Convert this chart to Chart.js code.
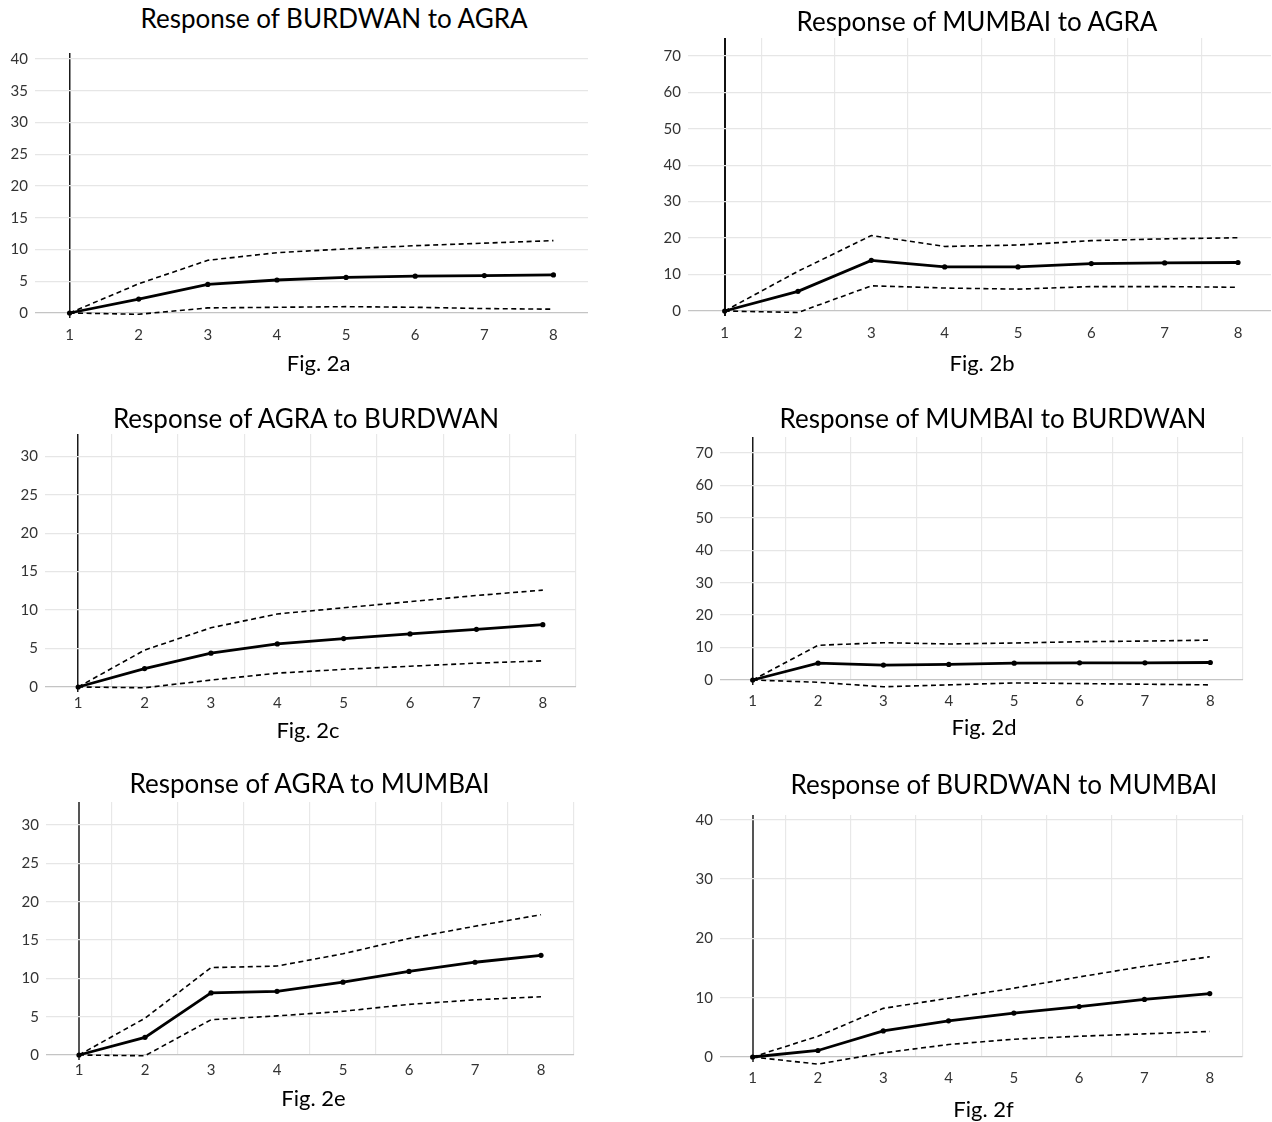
<!DOCTYPE html>
<html>
<head>
<meta charset="utf-8">
<script src="https://cdn.jsdelivr.net/npm/chart.js@4/dist/chart.umd.min.js"></script>
<style>
  body { margin: 0; background: #fff; }
  #page { position: relative; width: 1272px; height: 1122px; overflow: hidden; font-family: Lato, "Noto Sans", sans-serif; }
  #page canvas { position: absolute; }
  .title, .caption { position: absolute; white-space: nowrap; transform: translateX(-50%); color: #000; line-height: 30px; }
  .title { font-size: 26px; }
  .caption { font-size: 22px; }
</style>
</head>
<body>
<div id="page"></div>
<script>
// horizon (periods after the shock)
var PERIODS = [1, 2, 3, 4, 5, 6, 7, 8];

// Fig. 2a  Response of BURDWAN to AGRA
var BURDWAN_AGRA = [0, 2.2, 4.5, 5.2, 5.6, 5.8, 5.9, 6.0];
var BURDWAN_AGRA_UP = [0, 4.6, 8.3, 9.5, 10.1, 10.6, 11.0, 11.4];
var BURDWAN_AGRA_LO = [0, -0.2, 0.8, 0.9, 1.0, 0.9, 0.7, 0.6];

// Fig. 2b  Response of MUMBAI to AGRA
var MUMBAI_AGRA = [0, 5.4, 13.9, 12.1, 12.1, 13.0, 13.2, 13.3];
var MUMBAI_AGRA_UP = [0, 10.9, 20.7, 17.7, 18.1, 19.3, 19.8, 20.1];
var MUMBAI_AGRA_LO = [0, -0.4, 6.9, 6.3, 6.0, 6.7, 6.7, 6.5];

// Fig. 2c  Response of AGRA to BURDWAN
var AGRA_BURDWAN = [0, 2.4, 4.4, 5.6, 6.3, 6.9, 7.5, 8.1];
var AGRA_BURDWAN_UP = [0, 4.8, 7.7, 9.5, 10.3, 11.1, 11.9, 12.6];
var AGRA_BURDWAN_LO = [0, -0.1, 0.9, 1.8, 2.3, 2.7, 3.1, 3.4];

// Fig. 2d  Response of MUMBAI to BURDWAN
var MUMBAI_BURDWAN = [0, 5.2, 4.6, 4.8, 5.2, 5.3, 5.3, 5.4];
var MUMBAI_BURDWAN_UP = [0, 10.7, 11.5, 11.1, 11.4, 11.8, 12.0, 12.3];
var MUMBAI_BURDWAN_LO = [0, -0.7, -2.1, -1.5, -0.9, -1.1, -1.3, -1.5];

// Fig. 2e  Response of AGRA to MUMBAI
var AGRA_MUMBAI = [0, 2.3, 8.1, 8.3, 9.5, 10.9, 12.1, 13.0];
var AGRA_MUMBAI_UP = [0, 4.8, 11.4, 11.6, 13.2, 15.2, 16.8, 18.3];
var AGRA_MUMBAI_LO = [0, -0.1, 4.6, 5.1, 5.7, 6.6, 7.2, 7.6];

// Fig. 2f  Response of BURDWAN to MUMBAI
var BURDWAN_MUMBAI = [0, 1.1, 4.4, 6.1, 7.4, 8.5, 9.7, 10.7];
var BURDWAN_MUMBAI_UP = [0, 3.5, 8.2, 9.9, 11.6, 13.5, 15.3, 16.9];
var BURDWAN_MUMBAI_LO = [0, -1.2, 0.7, 2.1, 3.0, 3.5, 3.9, 4.3];

var panels = [
  { title: "Response of BURDWAN to AGRA", fig: "Fig. 2a", mid: BURDWAN_AGRA, up: BURDWAN_AGRA_UP, lo: BURDWAN_AGRA_LO,
    yMax: 40.95, step: 5, xMax: 8.5, gridX: false, axisColor: "#1a1a1a", axisW: 1.5,
    area: [35, 43, 589.5, 313.3], labelPad: 8, tpos: [334, 18], cpos: [318.7, 363] },
  { title: "Response of MUMBAI to AGRA", fig: "Fig. 2b", mid: MUMBAI_AGRA, up: MUMBAI_AGRA_UP, lo: MUMBAI_AGRA_LO,
    yMax: 74.9, step: 10, xMax: 8.45, gridX: true, axisColor: "#111", axisW: 2,
    area: [688, 28.3, 1270.7, 311.7], labelPad: 8, tpos: [977, 20.5], cpos: [982, 363] },
  { title: "Response of AGRA to BURDWAN", fig: "Fig. 2c", mid: AGRA_BURDWAN, up: AGRA_BURDWAN_UP, lo: AGRA_BURDWAN_LO,
    yMax: 32.9, step: 5, xMax: 8.5, gridX: true, axisColor: "#1a1a1a", axisW: 1.5,
    area: [45.2, 424.3, 575.7, 687.7], labelPad: 2.6, tpos: [306, 417.5], cpos: [308, 729.5] },
  { title: "Response of MUMBAI to BURDWAN", fig: "Fig. 2d", mid: MUMBAI_BURDWAN, up: MUMBAI_BURDWAN_UP, lo: MUMBAI_BURDWAN_LO,
    yMax: 74.9, step: 10, xMax: 8.5, gridX: true, axisColor: "#1a1a1a", axisW: 1.5,
    area: [720, 427.3, 1244, 680.3], labelPad: 7, tpos: [993, 417.5], cpos: [984, 727] },
  { title: "Response of AGRA to MUMBAI", fig: "Fig. 2e", mid: AGRA_MUMBAI, up: AGRA_MUMBAI_UP, lo: AGRA_MUMBAI_LO,
    yMax: 33, step: 5, xMax: 8.5, gridX: true, axisColor: "#555", axisW: 2,
    area: [46.3, 792, 574.3, 1054.7], labelPad: 1, tpos: [309.6, 782.5], cpos: [313.5, 1098] },
  { title: "Response of BURDWAN to MUMBAI", fig: "Fig. 2f", mid: BURDWAN_MUMBAI, up: BURDWAN_MUMBAI_UP, lo: BURDWAN_MUMBAI_LO,
    yMax: 40.8, step: 10, xMax: 8.5, gridX: true, axisColor: "#555", axisW: 2,
    area: [720, 804.9, 1244, 1057], labelPad: 7.6, tpos: [1004, 783.5], cpos: [983.5, 1108.7] }
];

var Y_W = 50, X_H = 40, PAD = 6;
var page = document.getElementById("page");

function pts(arr) {
  return PERIODS.map(function (p, i) { return { x: p, y: arr[i] }; });
}

// tick values every `step` from `from` up to `to`
function tickList(from, to, step) {
  var out = [];
  for (var k = 0; from + k * step <= to + 1e-9; k++) out.push({ value: +(from + k * step).toFixed(4) });
  return out;
}

panels.forEach(function (p) {
  var a = p.area;
  var cv = document.createElement("canvas");
  var w = Math.round(a[2] - a[0] + Y_W + PAD);
  var h = Math.round(a[3] - a[1] + PAD + X_H);
  cv.width = w; cv.height = h;
  cv.style.left = (a[0] - Y_W) + "px";
  cv.style.top = (a[1] - PAD) + "px";
  page.appendChild(cv);

  var t = document.createElement("div");
  t.className = "title"; t.textContent = p.title;
  t.style.left = p.tpos[0] + "px"; t.style.top = (p.tpos[1] - 15) + "px";
  page.appendChild(t);
  var c = document.createElement("div");
  c.className = "caption"; c.textContent = p.fig;
  c.style.left = p.cpos[0] + "px"; c.style.top = (p.cpos[1] - 15) + "px";
  page.appendChild(c);

  new Chart(cv.getContext("2d"), {
    type: "line",
    data: {
      datasets: [{
        data: pts(p.mid),
        borderColor: "#000",
        borderWidth: 2.8,
        pointRadius: 2.6,
        pointBackgroundColor: "#000",
        pointBorderWidth: 0,
        clip: false
      }, {
        data: pts(p.up),
        borderColor: "#000",
        borderWidth: 1.6,
        borderDash: [5, 3.5],
        pointRadius: 0,
        clip: false
      }, {
        data: pts(p.lo),
        borderColor: "#000",
        borderWidth: 1.6,
        borderDash: [5, 3.5],
        pointRadius: 0,
        clip: false
      }]
    },
    options: {
      responsive: false,
      animation: false,
      layout: { padding: { top: PAD, right: PAD, left: 0, bottom: 0 } },
      plugins: { legend: { display: false }, tooltip: { enabled: false } },
      scales: {
        x: {
          type: "linear",
          min: 0.5,
          max: p.xMax,
          afterFit: function (s) { s.height = X_H; },
          afterBuildTicks: function (s) { s.ticks = tickList(0.5, p.xMax, 0.5); },
          border: { display: false },
          grid: {
            tickLength: 5,
            color: function (ctx) {
              var v = ctx.tick.value;
              if (v === 1) return p.axisColor;
              if (p.gridX && v > 0.5 && Math.abs(v % 1 - 0.5) < 1e-6) return "#e8e8e8";
              return "rgba(0,0,0,0)";
            },
            lineWidth: function (ctx) { return ctx.tick.value === 1 ? p.axisW : 1.2; },
            tickColor: function (ctx) { return ctx.tick.value === 1 ? p.axisColor : "rgba(0,0,0,0)"; }
          },
          ticks: {
            autoSkip: false,
            maxRotation: 0,
            padding: p.labelPad,
            color: "#333",
            font: { family: "Lato", size: 15 },
            callback: function (v) { return Number.isInteger(v) ? String(v) : ""; }
          }
        },
        y: {
          min: 0,
          max: p.yMax,
          afterFit: function (s) { s.width = Y_W; },
          afterBuildTicks: function (s) { s.ticks = tickList(0, p.yMax, p.step); },
          border: { display: false },
          grid: {
            drawTicks: false,
            lineWidth: 1.3,
            color: function (ctx) { return ctx.tick.value === 0 ? "#c4c4c4" : "#e6e6e6"; }
          },
          ticks: {
            padding: 7,
            color: "#333",
            font: { family: "Lato", size: 15 }
          }
        }
      }
    }
  });
});
</script>
</body>
</html>
